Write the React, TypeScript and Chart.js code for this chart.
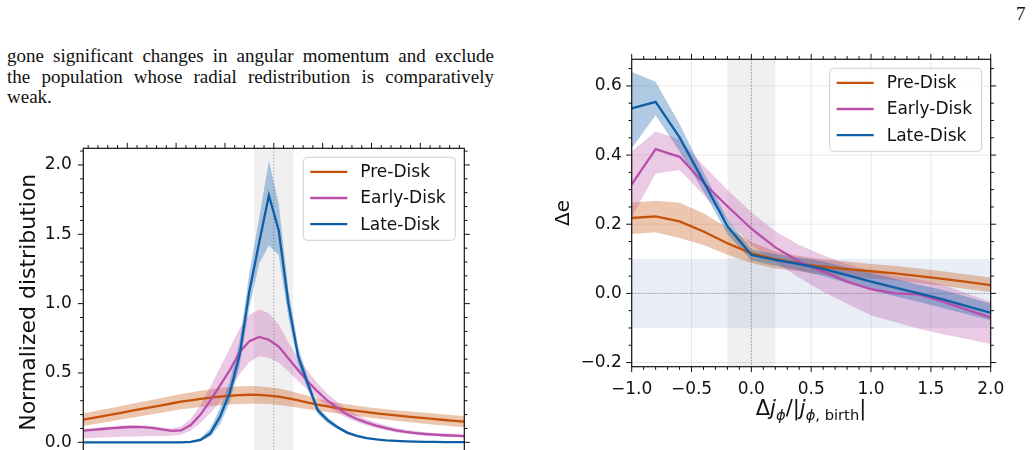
import React, { useEffect, useRef } from 'react';
import { Chart, registerables } from 'chart.js';

Chart.register(...registerables);
Chart.defaults.font.family = 'DejaVu Sans';
Chart.defaults.color = '#111';

// ---------- left panel: normalized distribution of Δj/|j_birth| ----------
const distX = [
  -1.95, -1.85, -1.75, -1.65, -1.55, -1.45, -1.35, -1.25, -1.15, -1.05,
  -0.95, -0.85, -0.75, -0.65, -0.55, -0.45, -0.35, -0.25, -0.15, -0.05,
  0.05, 0.15, 0.25, 0.35, 0.45, 0.55, 0.65, 0.75, 0.85, 0.95,
  1.05, 1.15, 1.25, 1.35, 1.45, 1.55, 1.65, 1.75, 1.85, 1.95,
];
const distPre = [
  0.163, 0.176, 0.189, 0.202, 0.215, 0.228, 0.241, 0.254, 0.267, 0.280,
  0.293, 0.303, 0.313, 0.322, 0.330, 0.336, 0.341, 0.343, 0.342, 0.337,
  0.329, 0.317, 0.302, 0.287, 0.272, 0.259, 0.247, 0.236, 0.226, 0.217,
  0.209, 0.201, 0.194, 0.187, 0.180, 0.174, 0.167, 0.161, 0.155, 0.149,
];
const distPreLo = [
  0.118, 0.130, 0.142, 0.154, 0.166, 0.178, 0.190, 0.202, 0.214, 0.226,
  0.238, 0.246, 0.254, 0.261, 0.268, 0.273, 0.277, 0.279, 0.279, 0.276,
  0.270, 0.261, 0.250, 0.239, 0.228, 0.218, 0.208, 0.198, 0.189, 0.180,
  0.172, 0.164, 0.156, 0.148, 0.141, 0.134, 0.127, 0.121, 0.115, 0.109,
];
const distPreHi = [
  0.208, 0.222, 0.236, 0.250, 0.264, 0.278, 0.292, 0.306, 0.320, 0.334,
  0.348, 0.360, 0.372, 0.383, 0.392, 0.399, 0.405, 0.407, 0.405, 0.398,
  0.388, 0.373, 0.354, 0.335, 0.316, 0.300, 0.286, 0.274, 0.263, 0.254,
  0.246, 0.238, 0.232, 0.226, 0.219, 0.214, 0.207, 0.201, 0.195, 0.189,
];
const distEarly = [
  0.084, 0.090, 0.096, 0.102, 0.107, 0.111, 0.110, 0.104, 0.093, 0.082,
  0.086, 0.125, 0.200, 0.300, 0.410, 0.520, 0.650, 0.730, 0.760, 0.740,
  0.690, 0.605, 0.520, 0.437, 0.365, 0.300, 0.250, 0.200, 0.168, 0.142,
  0.120, 0.102, 0.087, 0.076, 0.067, 0.060, 0.055, 0.051, 0.048, 0.045,
];
const distEarlyLo = [
  0.030, 0.032, 0.035, 0.038, 0.040, 0.042, 0.044, 0.045, 0.046, 0.048,
  0.055, 0.085, 0.140, 0.210, 0.290, 0.380, 0.490, 0.580, 0.620, 0.610,
  0.575, 0.510, 0.440, 0.375, 0.315, 0.260, 0.215, 0.175, 0.146, 0.121,
  0.101, 0.085, 0.072, 0.062, 0.054, 0.048, 0.043, 0.039, 0.036, 0.034,
];
const distEarlyHi = [
  0.098, 0.104, 0.110, 0.116, 0.121, 0.125, 0.124, 0.118, 0.108, 0.100,
  0.115, 0.170, 0.270, 0.400, 0.540, 0.680, 0.820, 0.920, 0.960, 0.930,
  0.850, 0.720, 0.610, 0.510, 0.425, 0.350, 0.290, 0.236, 0.198, 0.166,
  0.141, 0.121, 0.104, 0.091, 0.081, 0.073, 0.068, 0.064, 0.061, 0.058,
];
const distLate = [
  0, 0, 0, 0, 0, 0, 0, 0, 0, 0,
  0, 0.003, 0.018, 0.065, 0.185, 0.360, 0.630, 1.090, 1.440, 1.780,
  1.530, 1.000, 0.620, 0.420, 0.230, 0.160, 0.110, 0.070, 0.046, 0.031,
  0.021, 0.014, 0.010, 0.007, 0.005, 0.004, 0.003, 0.002, 0.002, 0.001,
];
const distLateLo = [
  0, 0, 0, 0, 0, 0, 0, 0, 0, 0,
  0, 0.000, 0.008, 0.040, 0.130, 0.290, 0.550, 0.970, 1.290, 1.420,
  1.350, 0.900, 0.560, 0.380, 0.205, 0.140, 0.095, 0.060, 0.038, 0.025,
  0.016, 0.010, 0.007, 0.004, 0.003, 0.002, 0.001, 0.001, 0.001, 0.000,
];
const distLateHi = [
  0.001, 0.001, 0.001, 0.001, 0.001, 0.001, 0.001, 0.001, 0.001, 0.001,
  0.002, 0.008, 0.032, 0.100, 0.250, 0.440, 0.730, 1.220, 1.620, 2.030,
  1.720, 1.100, 0.690, 0.460, 0.255, 0.180, 0.125, 0.080, 0.054, 0.037,
  0.026, 0.018, 0.013, 0.010, 0.007, 0.006, 0.005, 0.003, 0.003, 0.002,
];
const distYTicks = [0, 0.5, 1.0, 1.5, 2.0];
const distXTicks = [-1.5, -1.0, -0.5, 0, 0.5, 1.0, 1.5];

// ---------- right panel: Δe against Δj/|j_birth| ----------
const shiftX = [-1.0, -0.8, -0.6, -0.4, -0.2, 0.0, 0.2, 0.4, 0.6, 0.8, 1.0, 1.2, 1.4, 1.6, 1.8, 2.0];
const dePre = [0.218, 0.223, 0.208, 0.179, 0.145, 0.116, 0.099, 0.087, 0.077, 0.070, 0.064, 0.058, 0.050, 0.042, 0.033, 0.024];
const dePreLo = [0.172, 0.177, 0.160, 0.140, 0.112, 0.088, 0.072, 0.064, 0.055, 0.049, 0.044, 0.038, 0.030, 0.022, 0.013, 0.004];
const dePreHi = [0.262, 0.268, 0.262, 0.232, 0.190, 0.148, 0.122, 0.108, 0.098, 0.092, 0.085, 0.080, 0.072, 0.064, 0.055, 0.046];
const deEarly = [0.315, 0.417, 0.395, 0.320, 0.252, 0.187, 0.133, 0.092, 0.063, 0.034, 0.012, 0.000, -0.003, -0.024, -0.047, -0.070];
const deEarlyLo = [0.220, 0.347, 0.357, 0.285, 0.210, 0.140, 0.090, 0.045, 0.005, -0.030, -0.063, -0.083, -0.102, -0.118, -0.132, -0.146];
const deEarlyHi = [0.410, 0.468, 0.445, 0.370, 0.300, 0.235, 0.180, 0.140, 0.110, 0.085, 0.065, 0.050, 0.040, 0.025, 0.000, -0.025];
const deLate = [0.535, 0.554, 0.451, 0.324, 0.194, 0.111, 0.097, 0.085, 0.071, 0.053, 0.034, 0.017, 0.000, -0.017, -0.037, -0.056];
const deLateLo = [0.420, 0.515, 0.410, 0.295, 0.172, 0.095, 0.080, 0.066, 0.050, 0.030, 0.010, -0.008, -0.025, -0.042, -0.060, -0.078];
const deLateHi = [0.640, 0.612, 0.490, 0.350, 0.215, 0.127, 0.114, 0.104, 0.092, 0.075, 0.058, 0.042, 0.025, 0.010, -0.010, -0.030];
const deYTicks = [-0.2, 0.0, 0.2, 0.4, 0.6];
const deXTicks = [-1.0, -0.5, 0.0, 0.5, 1.0, 1.5, 2.0];

const seriesNames = ['Pre-Disk', 'Early-Disk', 'Late-Disk'];
const PRE = '#c4520a';
const EARLY = '#b84ea9';
const LATE = '#0d5ea6';
const PRE_BAND = 'rgba(196,82,10,0.33)';
const EARLY_BAND = 'rgba(184,78,169,0.30)';
const LATE_BAND = 'rgba(13,94,166,0.33)';

type Deco = {
  xMajor: number[];
  xMinorStep: number;
  yMajor: number[];
  yMinorStep: number;
  grid: boolean;
  vBand: [number, number];
  hBand?: [number, number];
  zeroY: boolean;
};

const fmt = (v: number) => {
  const s = Math.abs(v).toFixed(1);
  return v < -1e-9 ? '\u2212' + s : s;
};

function decoPlugin(d: Deco) {
  return {
    id: 'panelDeco',
    beforeDatasetsDraw(chart: any) {
      const { ctx, chartArea: a } = chart;
      const xs = chart.scales.x;
      const ys = chart.scales.y;
      ctx.save();
      ctx.beginPath();
      ctx.rect(a.left, a.top, a.right - a.left, a.bottom - a.top);
      ctx.clip();
      // shaded regions
      ctx.fillStyle = 'rgba(128,128,128,0.12)';
      const vx0 = xs.getPixelForValue(d.vBand[0]);
      const vx1 = xs.getPixelForValue(d.vBand[1]);
      ctx.fillRect(vx0, a.top, vx1 - vx0, a.bottom - a.top);
      if (d.hBand) {
        ctx.fillStyle = 'rgba(40,90,170,0.10)';
        const hy0 = ys.getPixelForValue(d.hBand[1]);
        const hy1 = ys.getPixelForValue(d.hBand[0]);
        ctx.fillRect(a.left, hy0, a.right - a.left, hy1 - hy0);
      }
      // light grid at the major ticks
      if (d.grid) {
        ctx.strokeStyle = 'rgba(0,0,0,0.09)';
        ctx.lineWidth = 1;
        d.xMajor.forEach((v) => {
          const p = xs.getPixelForValue(v);
          ctx.beginPath();
          ctx.moveTo(p, a.top);
          ctx.lineTo(p, a.bottom);
          ctx.stroke();
        });
        d.yMajor.forEach((v) => {
          const p = ys.getPixelForValue(v);
          ctx.beginPath();
          ctx.moveTo(a.left, p);
          ctx.lineTo(a.right, p);
          ctx.stroke();
        });
      }
      // dotted reference lines at zero
      ctx.strokeStyle = '#9a9a9a';
      ctx.lineWidth = 1;
      ctx.setLineDash([1.3, 1.9]);
      const zx = xs.getPixelForValue(0);
      ctx.beginPath();
      ctx.moveTo(zx, a.top);
      ctx.lineTo(zx, a.bottom);
      ctx.stroke();
      if (d.zeroY) {
        const zy = ys.getPixelForValue(0);
        ctx.beginPath();
        ctx.moveTo(a.left, zy);
        ctx.lineTo(a.right, zy);
        ctx.stroke();
      }
      ctx.restore();
    },
    afterDraw(chart: any) {
      const { ctx, chartArea: a } = chart;
      const xs = chart.scales.x;
      const ys = chart.scales.y;
      ctx.save();
      ctx.strokeStyle = '#111';
      ctx.lineWidth = 1.2;
      ctx.strokeRect(a.left, a.top, a.right - a.left, a.bottom - a.top);
      ctx.lineWidth = 1;
      const near = (v: number, arr: number[]) => arr.some((m) => Math.abs(m - v) < 1e-6);
      const xTick = (v: number, len: number) => {
        const p = xs.getPixelForValue(v);
        ctx.beginPath();
        ctx.moveTo(p, a.top);
        ctx.lineTo(p, a.top - len);
        ctx.moveTo(p, a.bottom);
        ctx.lineTo(p, a.bottom + len);
        ctx.stroke();
      };
      const yTick = (v: number, len: number) => {
        const p = ys.getPixelForValue(v);
        ctx.beginPath();
        ctx.moveTo(a.left, p);
        ctx.lineTo(a.left - len, p);
        ctx.moveTo(a.right, p);
        ctx.lineTo(a.right + len, p);
        ctx.stroke();
      };
      d.xMajor.forEach((v) => xTick(v, 5.5));
      d.yMajor.forEach((v) => yTick(v, 5.5));
      for (let k = Math.ceil(xs.min / d.xMinorStep - 1e-6); k * d.xMinorStep <= xs.max + 1e-6; k++) {
        const v = k * d.xMinorStep;
        if (!near(v, d.xMajor)) xTick(v, 3.2);
      }
      for (let k = Math.ceil(ys.min / d.yMinorStep - 1e-6); k * d.yMinorStep <= ys.max + 1e-6; k++) {
        const v = k * d.yMinorStep;
        if (!near(v, d.yMajor)) yTick(v, 3.2);
      }
      // legend, upper right
      const colors = [PRE, EARLY, LATE];
      const bw = 152;
      const bh = 83;
      const bx = a.right - 9 - bw;
      const by = a.top + 9;
      ctx.beginPath();
      ctx.roundRect(bx, by, bw, bh, 4);
      ctx.fillStyle = 'rgba(255,255,255,0.8)';
      ctx.fill();
      ctx.strokeStyle = '#d0d0d0';
      ctx.lineWidth = 1;
      ctx.stroke();
      ctx.font = '17px "DejaVu Sans"';
      ctx.textBaseline = 'middle';
      ctx.textAlign = 'left';
      seriesNames.forEach((name, i) => {
        const ry = by + 14.5 + i * 26.2;
        ctx.strokeStyle = colors[i];
        ctx.lineWidth = 2.3;
        ctx.beginPath();
        ctx.moveTo(bx + 7, ry);
        ctx.lineTo(bx + 44, ry);
        ctx.stroke();
        ctx.fillStyle = '#111';
        ctx.fillText(name, bx + 57, ry + 1);
      });
      ctx.restore();
    },
  };
}

function buildDatasets(
  xs: number[],
  pre: number[], preLo: number[], preHi: number[],
  early: number[], earlyLo: number[], earlyHi: number[],
  late: number[], lateLo: number[], lateHi: number[],
) {
  const pts = (v: number[]) => xs.map((x, i) => ({ x, y: v[i] }));
  const band = (hi: number[], lo: number[], color: string, order: number) => [
    { data: pts(hi), fill: '+1', backgroundColor: color, borderColor: 'transparent', borderWidth: 0, pointRadius: 0, order },
    { data: pts(lo), fill: false, borderColor: 'transparent', borderWidth: 0, pointRadius: 0, order },
  ];
  const line = (v: number[], color: string, label: string, order: number) => ({
    label, data: pts(v), borderColor: color, borderWidth: 2.3, pointRadius: 0, fill: false, order, tension: 0,
  });
  return [
    ...band(preHi, preLo, PRE_BAND, 6),
    ...band(earlyHi, earlyLo, EARLY_BAND, 5),
    ...band(lateHi, lateLo, LATE_BAND, 4),
    line(pre, PRE, seriesNames[0], 3),
    line(early, EARLY, seriesNames[1], 2),
    line(late, LATE, seriesNames[2], 1),
  ];
}

function distConfig(): any {
  return {
    type: 'line',
    data: {
      datasets: buildDatasets(distX, distPre, distPreLo, distPreHi, distEarly, distEarlyLo, distEarlyHi, distLate, distLateLo, distLateHi),
    },
    options: {
      animation: false,
      responsive: false,
      events: [],
      layout: { padding: { left: 0, top: 48.3, right: 55.7, bottom: 0 } },
      plugins: { legend: { display: false }, tooltip: { enabled: false } },
      scales: {
        x: {
          type: 'linear', min: -1.95, max: 1.95,
          ticks: { display: false },
          grid: { display: false, drawTicks: false },
          border: { display: false },
          afterFit: (s: any) => { s.height = 43.8; },
        },
        y: {
          type: 'linear', min: -0.1, max: 2.12,
          afterBuildTicks: (s: any) => { s.ticks = distYTicks.map((value) => ({ value })); },
          ticks: { callback: (v: number) => fmt(v), font: { size: 17 }, color: '#111', padding: 11.6 },
          grid: { display: false, drawTicks: false },
          border: { display: false },
          title: { display: true, text: 'Normalized distribution', font: { size: 22 }, color: '#111', padding: { top: 15.8, bottom: 0 } },
          afterFit: (s: any) => { s.width = 83.3; },
        },
      },
    },
    plugins: [decoPlugin({ xMajor: distXTicks, xMinorStep: 0.1, yMajor: distYTicks, yMinorStep: 0.1, grid: false, vBand: [-0.2, 0.2], zeroY: false })],
  };
}

function deConfig(): any {
  return {
    type: 'line',
    data: {
      datasets: buildDatasets(shiftX, dePre, dePreLo, dePreHi, deEarly, deEarlyLo, deEarlyHi, deLate, deLateLo, deLateHi),
    },
    options: {
      animation: false,
      responsive: false,
      events: [],
      layout: { padding: { left: 0, top: 59.3, right: 43.3, bottom: 0 } },
      plugins: { legend: { display: false }, tooltip: { enabled: false } },
      scales: {
        x: {
          type: 'linear', min: -1.0, max: 2.0,
          afterBuildTicks: (s: any) => { s.ticks = deXTicks.map((value) => ({ value })); },
          ticks: { callback: (v: number) => fmt(v), font: { size: 17 }, color: '#111', padding: 12.3, maxRotation: 0 },
          grid: { display: false, drawTicks: false },
          border: { display: false },
          afterFit: (s: any) => { s.height = 83.3; },
        },
        y: {
          type: 'linear', min: -0.212, max: 0.677,
          afterBuildTicks: (s: any) => { s.ticks = deYTicks.map((value) => ({ value })); },
          ticks: { callback: (v: number) => fmt(v), font: { size: 17 }, color: '#111', padding: 10 },
          grid: { display: false, drawTicks: false },
          border: { display: false },
          title: { display: true, text: '\u0394e', font: { size: 20 }, color: '#111', padding: { top: 11.5, bottom: 0 } },
          afterFit: (s: any) => { s.width = 91.7; },
        },
      },
    },
    plugins: [decoPlugin({ xMajor: deXTicks, xMinorStep: 0.1, yMajor: deYTicks, yMinorStep: 0.05, grid: true, vBand: [-0.2, 0.2], hBand: [-0.1, 0.1], zeroY: true })],
  };
}

function Panel({ make, left, top, width, height }: { make: () => any; left: number; top: number; width: number; height: number }) {
  const ref = useRef<HTMLCanvasElement>(null);
  useEffect(() => {
    const chart = new Chart(ref.current as HTMLCanvasElement, make());
    return () => chart.destroy();
  }, [make]);
  return (
    <canvas
      ref={ref}
      width={width}
      height={height}
      style={{ position: 'absolute', left, top, width, height }}
    />
  );
}

const serif = '"Liberation Serif", "Times New Roman", serif';
const lineStyle: React.CSSProperties = {
  whiteSpace: 'nowrap',
  height: 20.3,
};

export default function App() {
  const sub: React.CSSProperties = { fontSize: '70%', position: 'relative', top: '0.32em' };
  return (
    <div style={{ position: 'fixed', left: 0, top: 0, width: 1034, height: 450, overflow: 'hidden', background: '#fff' }}>
      <div style={{ position: 'absolute', left: 1016, top: 4, fontFamily: serif, fontSize: 19, lineHeight: '20.3px', color: '#111' }}>7</div>
      <div style={{ position: 'absolute', left: 7, top: 46.4, width: 487, fontFamily: serif, fontSize: 19, lineHeight: '20.3px', color: '#111' }}>
        <div style={{ ...lineStyle, textAlign: 'justify', textAlignLast: 'justify' }}>gone significant changes in angular momentum and exclude</div>
        <div style={{ ...lineStyle, textAlign: 'justify', textAlignLast: 'justify' }}>the population whose radial redistribution is comparatively</div>
        <div style={{ ...lineStyle }}>weak.</div>
      </div>
      <Panel make={distConfig} left={0} top={100} width={520} height={400} />
      <Panel make={deConfig} left={540} top={0} width={494} height={450} />
      <div
        style={{
          position: 'absolute', left: 711, top: 398, width: 200, textAlign: 'center',
          fontFamily: '"DejaVu Sans"', fontSize: 21, lineHeight: '20px', color: '#111', whiteSpace: 'nowrap',
        }}
      >
        Δ<i>j</i><span style={sub}><i>ϕ</i></span>/|<i>j</i><span style={sub}><i>ϕ</i>, birth</span>|
      </div>
    </div>
  );
}
